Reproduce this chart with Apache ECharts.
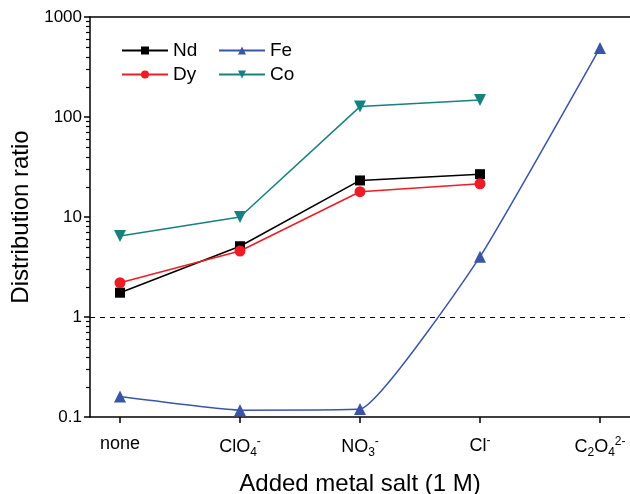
<!DOCTYPE html>
<html>
<head>
<meta charset="utf-8">
<script src="https://cdn.jsdelivr.net/npm/echarts@6/dist/echarts.min.js"></script>
<style>html,body{margin:0;padding:0;background:#fff}#c{width:630px;height:494px}</style>
</head>
<body>
<div id="c"></div>
<script>
const categories = ['none', 'ClO{sub|4}{sup|-}', 'NO{sub|3}{sup|-}', 'Cl{sup|-}', 'C{sub|2}O{sub|4}{sup|2-}'];
const catPos = [1, 2, 3, 4, 5];
const nd = [1.75, 5.1, 23.2, 26.8];
const dy = [2.2, 4.57, 17.9, 21.5];
const fe = [0.16, 0.117, 0.12, 4.0, 490];
const co = [6.46, 10.0, 127, 148];
const yTicks = [0.1, 1, 10, 100, 1000];
const minorTicks = [];
for (let d = 0.1; d < 1000; d *= 10) for (let k = 2; k <= 9; k++) minorTicks.push(+(d * k).toPrecision(3));

const FONT = 'Liberation Sans, Arial, sans-serif';
function pts(arr) { return arr.map((v, i) => [catPos[i], v]); }

const chart = echarts.init(document.getElementById('c'), null, {renderer: 'canvas'});
chart.setOption({
  animation: false,
  backgroundColor: '#fff',
  textStyle: {fontFamily: FONT},
  grid: {left: 90, right: 0, top: 17, bottom: 77, outerBoundsMode: 'none', containLabel: false},
  legend: [
    {data: ['Nd', 'Dy'], orient: 'vertical', left: 116, top: 36, itemWidth: 46, itemHeight: 10, itemGap: 5,
     textStyle: {fontSize: 19, color: '#000', fontFamily: FONT}},
    {data: ['Fe', 'Co'], orient: 'vertical', left: 213, top: 36, itemWidth: 46, itemHeight: 10, itemGap: 5,
     textStyle: {fontSize: 19, color: '#000', fontFamily: FONT}}
  ],
  xAxis: [{
    type: 'value', min: 0.75, max: 5.25, position: 'bottom',
    name: 'Added metal salt (1 M)', nameLocation: 'middle', nameGap: 55,
    nameTextStyle: {fontSize: 24, color: '#000', fontFamily: FONT},
    axisLine: {onZero: false, lineStyle: {color: '#000', width: 1.5}},
    axisTick: {show: true, customValues: catPos, length: 6, lineStyle: {color: '#000', width: 1.5}},
    axisLabel: {
      customValues: catPos, fontSize: 18, color: '#000', margin: 18, fontFamily: FONT,
      formatter: v => categories[Math.round(v) - 1] || '',
      rich: {
        sub: {fontSize: 12, padding: [12, 0, 0, 0], color: '#000'},
        sup: {fontSize: 12, padding: [0, 0, 11, 0], color: '#000'}
      }
    },
    splitLine: {show: false}
  }, {
    type: 'value', min: 0.75, max: 5.25, position: 'top',
    axisLine: {show: true, onZero: false, lineStyle: {color: '#000', width: 1.5}},
    axisTick: {show: false}, axisLabel: {show: false}, splitLine: {show: false}
  }],
  yAxis: [{
    type: 'log', logBase: 10, min: 0.1, max: 1000,
    name: 'Distribution ratio', nameLocation: 'middle', nameGap: 57,
    nameTextStyle: {fontSize: 24, color: '#000', fontFamily: FONT},
    axisLine: {show: true, onZero: false, lineStyle: {color: '#000', width: 1.5}},
    axisTick: {show: true, length: 6, lineStyle: {color: '#000', width: 1.5}},
    axisLabel: {fontSize: 17, color: '#000', margin: 8, fontFamily: FONT,
      formatter: v => { const r = yTicks.find(t => Math.abs(t - v) / t < 1e-6); return r === undefined ? '' : String(r); }},
    splitLine: {show: false}, minorTick: {show: false}
  }, {
    // helper axis in log10 units, used only to place the minor ticks (2..9 per decade)
    type: 'value', min: -1, max: 3, position: 'left', offset: 0,
    axisLine: {show: false, onZero: false},
    axisTick: {show: true, customValues: minorTicks.map(v => Math.log10(v)), length: 4, lineStyle: {color: '#000', width: 1.2}},
    axisLabel: {show: false, customValues: []}, splitLine: {show: false}
  }],
  series: [
    {name: 'Nd', type: 'line', data: pts(nd), color: '#000000', symbol: 'rect', symbolSize: 10,
     lineStyle: {width: 1.5}, itemStyle: {color: '#000000'},
     markLine: {silent: true, symbol: 'none', label: {show: false},
       lineStyle: {color: '#000', type: [5, 5], width: 1.2}, data: [{yAxis: 1}]}},
    {name: 'Dy', type: 'line', data: pts(dy), color: '#ee1c24', symbol: 'circle', symbolSize: 11,
     lineStyle: {width: 1.5}, itemStyle: {color: '#ee1c24'}},
    {name: 'Fe', type: 'line', data: pts(fe), color: '#3a55a6', symbol: 'triangle', symbolSize: 12,
     smooth: 0.12, lineStyle: {width: 1.5}, itemStyle: {color: '#3a55a6'}},
    {name: 'Co', type: 'line', data: pts(co), color: '#16817f', symbol: 'triangle', symbolRotate: 180, symbolSize: 12,
     lineStyle: {width: 1.5}, itemStyle: {color: '#16817f'}}
  ]
});
</script>
</body>
</html>
